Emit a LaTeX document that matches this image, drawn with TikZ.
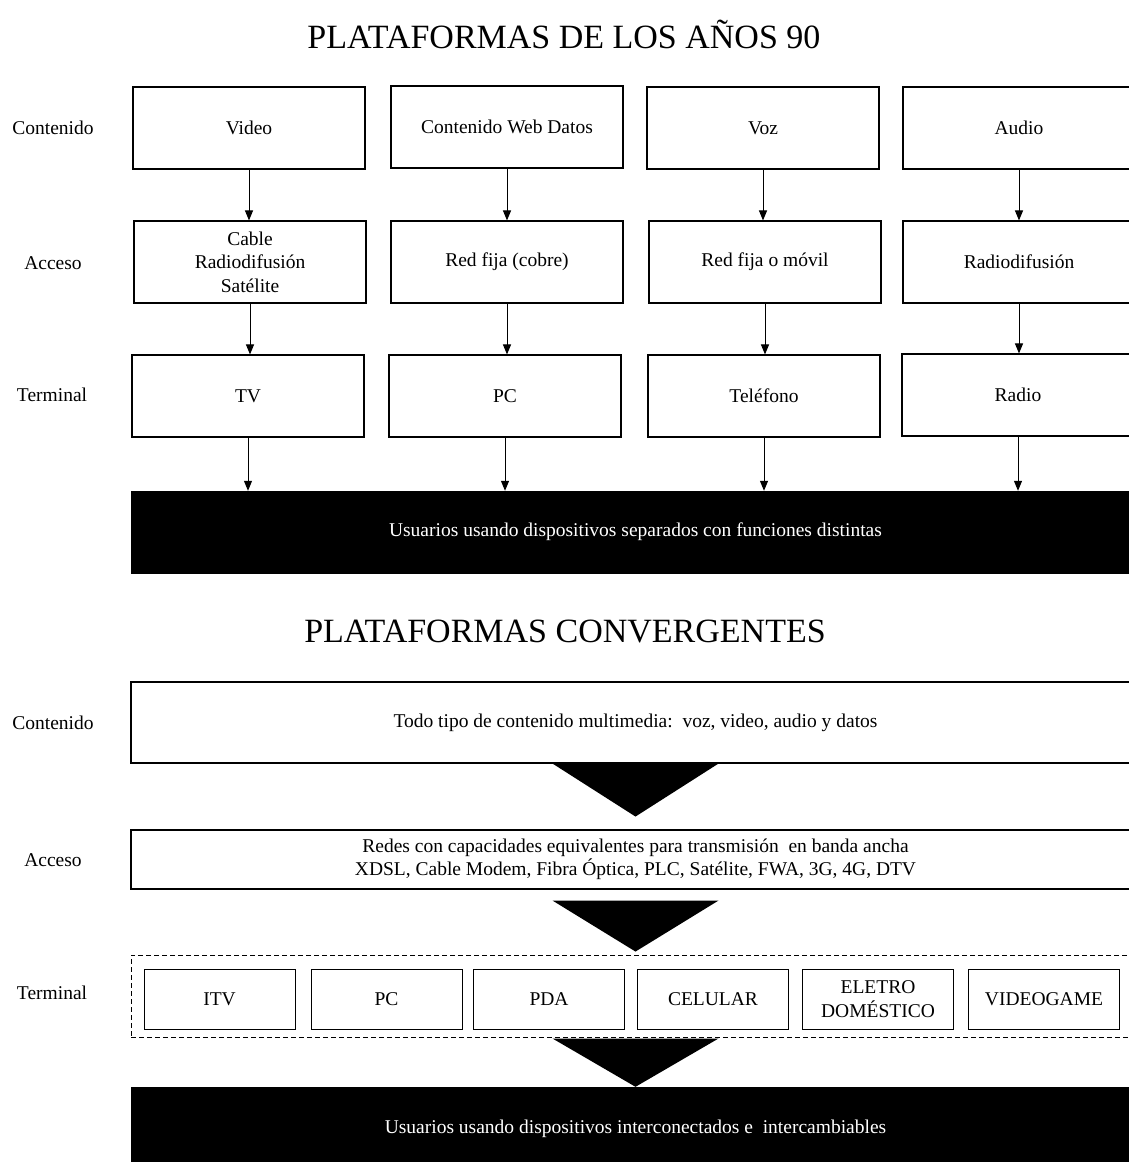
\documentclass[tikz,border=0pt]{standalone}
\usepackage{fontspec}
\setmainfont{Liberation Serif}
\usetikzlibrary{calc,arrows.meta}
\begin{document}
\begin{tikzpicture}[x=1pt,y=-1pt,
  every node/.style={inner sep=0pt, align=center},
  txt/.style={font=\fontsize{19.5}{23.5}\selectfont},
  ttl/.style={font=\fontsize{34}{38}\selectfont},
  colbox/.style={draw, line width=1.1pt, minimum width=232pt, minimum height=82pt, txt},
  widebox/.style={draw, line width=1.1pt, minimum width=1009pt, txt},
  userbar/.style={fill=black, draw=black, text=white, minimum width=1009pt, txt},
  devbox/.style={draw, line width=1pt, minimum width=151pt, minimum height=60pt, txt},
  groupbox/.style={draw, line width=1pt, dash pattern=on 5pt off 3pt, minimum width=1009pt, minimum height=82pt},
  arr/.style={line width=1pt, -{Triangle[width=8pt,length=10pt]}},
  wedge/.style={fill=black}
]
\useasboundingbox (0,0) rectangle (1129,1162);
\clip (0,0) rectangle (1129,1162);

% ---------- upper section: separate platforms ----------
\node[ttl] (title1) at (564,34) {PLATAFORMAS DE LOS AÑOS 90};

\node[txt] (l1c) at (53,128) {Contenido};
\node[txt] (l1a) at (53,263) {Acceso};
\node[txt] (l1t) at (52,395) {Terminal};

% content row
\node[colbox] (v1) at (249,128) {Video};
\node[colbox] (v2) at (507,127) {Contenido Web Datos};
\node[colbox] (v3) at (763,128) {Voz};
\node[colbox] (v4) at (1019,128) {Audio};
% access row
\node[colbox] (a1) at (250,262) {Cable\\Radiodifusión\\Satélite};
\node[colbox] (a2) at (507,262) {Red fija (cobre)};
\node[colbox] (a3) at (765,262) {Red fija o móvil};
\node[colbox] (a4) at (1019,262) {Radiodifusión};
% terminal row
\node[colbox] (t1) at (248,396) {TV};
\node[colbox] (t2) at (505,396) {PC};
\node[colbox] (t3) at (764,396) {Teléfono};
\node[colbox] (t4) at (1018,395) {Radio};

\node[userbar, minimum height=82pt] (u1) at (635.5,532)
  {Usuarios usando dispositivos separados con funciones distintas};

\foreach \i in {1,...,4} {
  \draw[arr] (v\i) -- (v\i |- a\i.north);
  \draw[arr] (a\i) -- (a\i |- t\i.north);
  \draw[arr] (t\i) -- (t\i |- u1.north);
}

% ---------- lower section: converged platforms ----------
\node[ttl] (title2) at (565,631) {PLATAFORMAS CONVERGENTES};

\node[txt] (l2c) at (53,723) {Contenido};
\node[txt] (l2a) at (53,860) {Acceso};
\node[txt] (l2t) at (52,993) {Terminal};

\node[widebox, minimum height=81pt] (c2) at (635.5,722.5)
  {Todo tipo de contenido multimedia:\ \ voz, video, audio y datos};
\node[widebox, minimum height=59pt] (acc2) at (635.5,859.5)
  {Redes con capacidades equivalentes para transmisión\ \ en banda ancha\\
   XDSL, Cable Modem, Fibra Óptica, PLC, Satélite, FWA, 3G, 4G, DTV};

\node[groupbox] (grp) at (635.5,996) {};
\node[devbox] (d1) at (219.5,999) {ITV};
\node[devbox] (d2) at (386.5,999) {PC};
\node[devbox] (d3) at (549,999) {PDA};
\node[devbox] (d4) at (713,999) {CELULAR};
\node[devbox] (d5) at (878,999) {ELETRO\\DOMÉSTICO};
\node[devbox] (d6) at (1044,999) {VIDEOGAME};

\node[userbar, minimum height=84pt] (u2) at (635.5,1129)
  {Usuarios usando dispositivos interconectados e\ \ intercambiables};

% wedge connectors between the layers
\fill[wedge] ($(c2.south)+(-83,0)$) -- ($(c2.south)+(83,0)$) -- ($(c2.south)+(0,53)$) -- cycle;
\fill[wedge] ($(acc2.south)+(-83,11)$) -- ($(acc2.south)+(83,11)$) -- ($(acc2.south)+(0,62)$) -- cycle;
\fill[wedge] ($(grp.south)+(-83,1)$) -- ($(grp.south)+(83,1)$) -- (u2.north) -- cycle;
\end{tikzpicture}
\end{document}
